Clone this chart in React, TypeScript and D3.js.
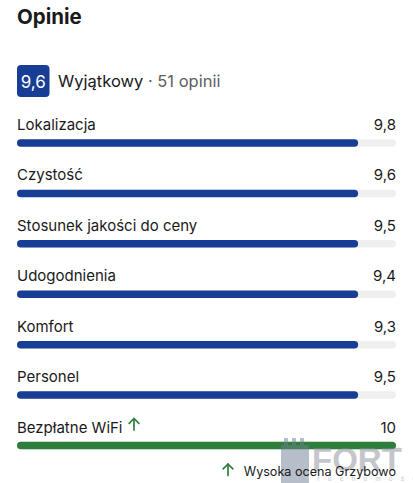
import React from "react";
import * as d3 from "d3";

const title = "Opinie";
const overallScore = 9.6;
const overallLabel = "Wyjątkowy";
const reviewCount = 51;
const categories = [
  "Lokalizacja",
  "Czystość",
  "Stosunek jakości do ceny",
  "Udogodnienia",
  "Komfort",
  "Personel",
  "Bezpłatne WiFi",
];
const scores = [9.8, 9.6, 9.5, 9.4, 9.3, 9.5, 10];
const highlighted = [false, false, false, false, false, false, true];
const footnote = "Wysoka ocena Grzybowo";

const W = 413;
const H = 483;
const FONT = "Inter, 'Liberation Sans', Arial, sans-serif";
const BLUE = "#173d95";
const GREEN = "#2f7d3a";
const TRACK = "#efefef";
const TEXT = "#1a1a1a";

const locale = d3.formatLocale({ decimal: ",", thousands: " ", grouping: [3], currency: ["", " zł"] });
const fmt1 = locale.format(".1f");
const fmtScore = (v: number) => (Number.isInteger(v) ? String(v) : fmt1(v));

function Arrow({ x, y, size, color }: { x: number; y: number; size: number; color: string }) {
  const h = size;
  const w = size * 0.42;
  return (
    <g stroke={color} strokeWidth={1.7} fill="none" strokeLinecap="round" strokeLinejoin="round">
      <line x1={x} y1={y} x2={x} y2={y + h} />
      <polyline points={`${x - w},${y + w} ${x},${y} ${x + w},${y + w}`} />
    </g>
  );
}

export default function App() {
  const left = 17;
  const right = 396;
  const x = d3.scaleLinear().domain([0, 1]).range([left, right]);
  // displayed fill fraction per score (as in the reference, all <10 scores share the same fill)
  const fill = d3.scaleThreshold<number, number>().domain([10]).range([0.9, 1]);
  const y = d3.scalePoint<string>().domain(categories).range([143, 445.5]);
  const barH = 7.5;

  return (
    <div style={{ position: "absolute", left: 0, top: 0, width: W, height: H, background: "#fff" }}>
      <svg width={W} height={H} style={{ display: "block", fontFamily: FONT }}>
        <rect width={W} height={H} fill="#fff" />
        <text x={left} y={23.5} fontSize={20.5} fontWeight={700} fill={TEXT}>
          {title}
        </text>

        <rect x={17} y={65} width={32.5} height={32} rx={4} fill={BLUE} />
        <text x={33.2} y={87.5} fontSize={17} fill="#fff" textAnchor="middle">
          {fmtScore(overallScore)}
        </text>
        <text x={58} y={87} fontSize={16.5} fill={TEXT}>
          {overallLabel}
          <tspan fill="#5e5e5e">{` · ${reviewCount} opinii`}</tspan>
        </text>

        {categories.map((c, i) => {
          const cy = y(c)!;
          const color = highlighted[i] ? GREEN : BLUE;
          return (
            <g key={c}>
              <text x={left} y={cy - 13} fontSize={15} fill={TEXT}>
                {c}
              </text>
              {highlighted[i] && (
                <Arrow x={134} y={cy - 27} size={11.5} color={GREEN} />
              )}
              <text x={right} y={cy - 13} fontSize={15} fill={TEXT} textAnchor="end">
                {fmtScore(scores[i])}
              </text>
              <rect x={x(0)} y={cy - barH / 2} width={x(1) - x(0)} height={barH} rx={barH / 2} fill={TRACK} />
              <rect
                x={x(0)}
                y={cy - barH / 2}
                width={x(fill(scores[i])) - x(0)}
                height={barH}
                rx={barH / 2}
                fill={color}
              />
            </g>
          );
        })}

        {/* watermark (behind footnote) */}
        <g opacity={0.5}>
          <path
            d="M281,483 L281,445 L284,445 L284,438 L288,438 L288,445 L292,445 L292,438 L296,438 L296,445 L300,445 L300,438 L304,438 L304,445 L309,445 L309,483 Z"
            fill="#6f7f95"
          />
          <text x={312} y={471} fontSize={33} fontWeight={700} fill="#8a8f98" fontFamily="'Liberation Sans', Arial, sans-serif">
            FORT
          </text>
          <text x={284} y={481} fontSize={6.5} fill="#8a8f98" letterSpacing={8.3} fontFamily="'Liberation Sans', Arial, sans-serif">
            nieruchomości
          </text>
        </g>

        <Arrow x={228} y={464} size={11.5} color={GREEN} />
        <text x={right} y={476} fontSize={12.6} fill={TEXT} textAnchor="end">
          {footnote}
        </text>
      </svg>
    </div>
  );
}
